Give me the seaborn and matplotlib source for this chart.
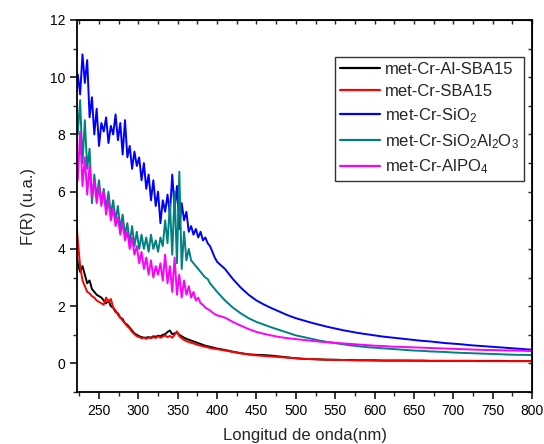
import matplotlib
matplotlib.use('Agg')
import matplotlib.pyplot as plt
from matplotlib.ticker import MultipleLocator
import seaborn as sns
import numpy as np
import pandas as pd

# comprimentos de onda: região ruidosa (passo 3 nm) e região suave (passo 10 nm)
wl_ruido = np.arange(220, 401, 3)
wl_suave = np.arange(410, 801, 10)

amostras = ['met-Cr-Al-SBA15', 'met-Cr-SBA15', 'met-Cr-SiO$_2$',
            'met-Cr-SiO$_2$Al$_2$O$_3$', 'met-Cr-AlPO$_4$']
cores = ['#000000', '#ff0000', '#0000ff', '#008080', '#ff00ff']

al_sba15 = [4.2, 3.5, 3.2, 3.4, 3.1, 2.8, 2.9, 2.6, 2.5, 2.4,
            2.35, 2.3, 2.2, 2.1, 2.2, 2.0, 1.95, 1.8, 1.75, 1.6,
            1.55, 1.4, 1.35, 1.25, 1.15, 1.05, 1.0, 0.95, 0.92, 0.9,
            0.9, 0.92, 0.9, 0.95, 0.93, 0.97, 0.95, 1.0, 1.02, 1.1,
            1.15, 1.02, 1.05, 1.08, 1.0, 0.95, 0.9, 0.86, 0.83, 0.8,
            0.77, 0.74, 0.71, 0.68, 0.65, 0.62, 0.6, 0.58, 0.56, 0.54,
            0.52,
            0.47, 0.41, 0.36, 0.32, 0.3, 0.29, 0.27, 0.24, 0.21, 0.18,
            0.16, 0.15, 0.14, 0.13, 0.13, 0.12, 0.12, 0.11, 0.11, 0.11,
            0.1, 0.1, 0.1, 0.1, 0.1, 0.1, 0.09, 0.09, 0.09, 0.09,
            0.09, 0.09, 0.09, 0.09, 0.09, 0.09, 0.08, 0.08, 0.08, 0.08]

sba15 = [5.5, 4.3, 3.4, 2.9, 2.7, 2.5, 2.45, 2.35, 2.3, 2.2,
         2.15, 2.1, 2.05, 2.3, 2.15, 2.25, 1.95, 1.85, 1.7, 1.6,
         1.5, 1.4, 1.3, 1.22, 1.1, 1.02, 0.95, 0.92, 0.88, 0.9,
         0.86, 0.9, 0.88, 0.92, 0.89, 0.95, 0.9, 0.94, 0.98, 0.92,
         0.96, 0.9, 1.0, 1.12, 0.95, 0.88, 0.82, 0.78, 0.75, 0.72,
         0.7, 0.67, 0.64, 0.62, 0.6, 0.58, 0.56, 0.54, 0.52, 0.51,
         0.5,
         0.45, 0.4, 0.35, 0.31, 0.28, 0.26, 0.24, 0.22, 0.2, 0.18,
         0.16, 0.15, 0.14, 0.13, 0.12, 0.12, 0.11, 0.11, 0.11, 0.1,
         0.1, 0.1, 0.1, 0.1, 0.09, 0.09, 0.09, 0.09, 0.09, 0.09,
         0.09, 0.09, 0.08, 0.08, 0.08, 0.08, 0.08, 0.08, 0.08, 0.08]

sio2 = [9.2, 10.1, 9.4, 10.8, 9.8, 10.6, 8.6, 9.3, 8.0, 8.9,
        7.6, 8.4, 8.1, 8.6, 7.7, 8.3, 8.0, 8.7, 7.8, 8.4,
        7.3, 8.5, 7.2, 7.6, 6.8, 7.4, 6.9, 7.2, 6.4, 7.0,
        6.1, 6.6, 5.7, 6.4, 5.5, 6.0, 4.9, 5.7, 5.3, 5.9,
        5.2, 6.6, 5.4, 6.2, 4.7, 5.6, 5.0, 5.3, 4.6, 4.8,
        4.5, 4.7, 4.4, 4.6, 4.3, 4.4, 4.2, 4.1, 3.9, 3.7,
        3.55,
        3.3, 2.95, 2.65, 2.4, 2.2, 2.05, 1.92, 1.8, 1.68, 1.58,
        1.5, 1.42, 1.35, 1.28, 1.22, 1.16, 1.11, 1.06, 1.02, 0.98,
        0.94, 0.91, 0.88, 0.85, 0.82, 0.79, 0.77, 0.74, 0.71, 0.69,
        0.67, 0.64, 0.62, 0.6, 0.58, 0.56, 0.54, 0.52, 0.5, 0.48]

sio2_al2o3 = [9.3, 8.0, 9.2, 7.0, 8.5, 6.8, 7.5, 5.6, 6.6, 5.8,
              6.4, 5.6, 6.1, 5.4, 6.0, 5.2, 5.7, 5.0, 5.5, 4.7,
              5.2, 4.5, 4.9, 4.2, 4.8, 4.1, 4.6, 4.0, 4.5, 4.0,
              4.4, 3.9, 4.5, 4.0, 4.3, 3.9, 4.4, 4.1, 5.0, 4.2,
              5.6, 3.8, 6.0, 3.5, 6.7, 3.3, 4.6, 3.6, 4.0, 3.6,
              3.5, 3.4, 3.3, 3.2, 3.1, 3.0, 2.95, 2.8, 2.7, 2.6,
              2.5,
              2.2, 1.95, 1.75, 1.58, 1.45, 1.35, 1.25, 1.16, 1.07, 0.98,
              0.92, 0.86, 0.8, 0.75, 0.71, 0.67, 0.63, 0.6, 0.57, 0.55,
              0.53, 0.51, 0.49, 0.47, 0.45, 0.44, 0.42, 0.41, 0.4, 0.38,
              0.37, 0.36, 0.35, 0.34, 0.33, 0.32, 0.31, 0.3, 0.3, 0.29]

alpo4 = [8.8, 6.4, 8.1, 6.2, 7.2, 5.9, 6.9, 5.8, 6.4, 5.6,
         6.2, 5.5, 6.0, 5.2, 5.7, 5.0, 5.4, 4.8, 5.1, 4.5,
         4.9, 4.3, 4.6, 4.0, 4.4, 3.8, 4.1, 3.5, 3.9, 3.3,
         3.7, 3.1, 3.6, 3.0, 3.4, 3.1, 3.5, 2.9, 3.8, 2.8,
         3.4, 2.5, 3.7, 2.4, 3.1, 2.3, 2.9, 2.4, 2.7, 2.3,
         2.5, 2.2, 2.3, 2.1, 2.05, 1.95, 1.9, 1.85, 1.78, 1.72,
         1.68,
         1.6, 1.45, 1.32, 1.2, 1.1, 1.03, 0.97, 0.92, 0.88, 0.85,
         0.82, 0.79, 0.76, 0.74, 0.72, 0.7, 0.68, 0.66, 0.64, 0.62,
         0.61, 0.59, 0.58, 0.57, 0.56, 0.55, 0.54, 0.53, 0.52, 0.51,
         0.5, 0.49, 0.48, 0.47, 0.47, 0.46, 0.45, 0.45, 0.44, 0.43]

series = [al_sba15, sba15, sio2, sio2_al2o3, alpo4]

wl = np.concatenate([wl_ruido, wl_suave])
df = pd.concat([
    pd.DataFrame({'wl': wl, 'fr': vals, 'amostra': nome})
    for nome, vals in zip(amostras, series)
], ignore_index=True)

sns.set_style('ticks')
plt.rcParams['font.family'] = ['Liberation Sans', 'DejaVu Sans']
plt.rcParams['mathtext.fontset'] = 'custom'
plt.rcParams['mathtext.rm'] = 'Liberation Sans'
plt.rcParams['mathtext.it'] = 'Liberation Sans'

fig = plt.figure(figsize=(5.44, 4.44), dpi=100)
ax = fig.add_axes([0.1415, 0.117, 0.8365, 0.838])

sns.lineplot(data=df, x='wl', y='fr', hue='amostra', hue_order=amostras,
             palette=cores, estimator=None, sort=False, lw=1.4, ax=ax)

ax.set_xlim(222, 800)
ax.set_ylim(-1, 12)
ax.xaxis.set_major_locator(MultipleLocator(50))
ax.xaxis.set_minor_locator(MultipleLocator(25))
ax.yaxis.set_major_locator(MultipleLocator(2))
ax.yaxis.set_minor_locator(MultipleLocator(1))

for s in ax.spines.values():
    s.set_linewidth(1.3)
    s.set_color('black')
ax.tick_params(which='major', direction='out', length=5, width=1.1,
               labelsize=10, colors='black')
ax.tick_params(which='minor', direction='out', length=3, width=1.0)

# ticks internos no topo e à direita
topo = ax.secondary_xaxis('top')
topo.xaxis.set_major_locator(MultipleLocator(50))
topo.xaxis.set_minor_locator(MultipleLocator(25))
topo.tick_params(which='both', direction='in', length=3, width=1.0, labeltop=False)
direita = ax.secondary_yaxis('right')
direita.yaxis.set_major_locator(MultipleLocator(2))
direita.yaxis.set_minor_locator(MultipleLocator(1))
direita.tick_params(which='both', direction='in', length=3, width=1.0, labelright=False)

ax.set_xlabel('Longitud de onda(nm)', fontsize=12, labelpad=7)
ax.set_ylabel('F(R) (u.a.)', fontsize=12, labelpad=10)

leg = ax.legend(loc='upper right', bbox_to_anchor=(0.982, 0.9), fontsize=12,
                frameon=True, fancybox=False, edgecolor='black',
                handlelength=2.4, handletextpad=0.3, labelspacing=0.42,
                borderaxespad=0, borderpad=0.3)
leg.get_frame().set_linewidth(1.0)
for h in leg.get_lines():
    h.set_linewidth(1.6)

fig.savefig('out.png', dpi=100)
plt.close('all')
